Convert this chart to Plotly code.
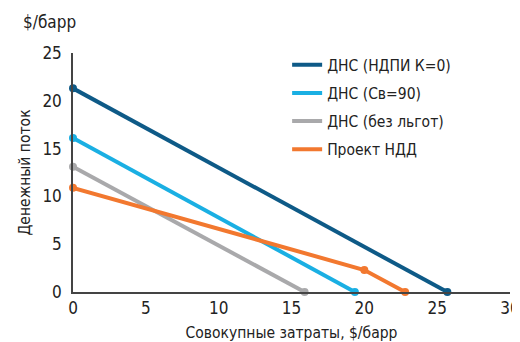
import plotly.graph_objects as go

series_names = ["ДНС (НДПИ К=0)", "ДНС (Св=90)", "ДНС (без льгот)", "Проект НДД"]
series_x = [[0, 25.7], [0, 19.35], [0, 15.9], [0, 20.0, 22.8]]
series_y = [[21.3, 0], [16.1, 0], [13.1, 0], [10.9, 2.3, 0]]
colors = ["#0e5a87", "#1aafe3", "#a9a9ab", "#f2782f"]
x_ticks = [0, 5, 10, 15, 20, 25, 30]
y_ticks = [0, 5, 10, 15, 20, 25]

FONT = "DejaVu Sans Condensed, Liberation Sans Narrow, Roboto, sans-serif"

fig = go.Figure()
for name, xs, ys, c in zip(series_names, series_x, series_y, colors):
    fig.add_trace(go.Scatter(x=xs, y=ys, name=name, mode="lines+markers",
                             line=dict(color=c, width=4), showlegend=False,
                             marker=dict(color=c, size=8), cliponaxis=False))
for name, c in zip(series_names, colors):
    fig.add_trace(go.Scatter(x=[None], y=[None], name=name, mode="lines",
                             legendgroup=name,
                             line=dict(color=c, width=4), showlegend=True))

fig.update_layout(
    width=512, height=334,
    margin=dict(l=65, r=10, t=45, b=50),
    paper_bgcolor="white", plot_bgcolor="white",
    font=dict(family=FONT, size=15.5, color="#222222"),
    showlegend=True,
    legend=dict(x=0.49, y=1.02, xanchor="left", yanchor="top",
                font=dict(size=15.5, color="#222222"), itemwidth=30,
                tracegroupgap=5, bgcolor="rgba(0,0,0,0)"),
    xaxis=dict(range=[0, 30], tickvals=x_ticks, showgrid=False, zeroline=False,
               showline=True, linecolor="#444444", linewidth=1.5, ticks="",
               automargin=False, tickfont=dict(size=17),
               title=dict(text="Совокупные затраты, $/барр", font=dict(size=15.5), standoff=10)),
    yaxis=dict(range=[0, 25], tickvals=y_ticks, showgrid=False, zeroline=False,
               showline=True, linecolor="#444444", linewidth=1.5, ticks="",
               automargin=False, tickfont=dict(size=17), ticklabelstandoff=6,
               title=dict(text="Денежный поток", font=dict(size=15.5), standoff=8)),
    annotations=[dict(text="$/барр", x=-0.12, y=1.13, xref="paper", yref="paper",
                      xanchor="left", yanchor="middle", showarrow=False,
                      font=dict(size=17))],
)
fig.write_html("out.html")
